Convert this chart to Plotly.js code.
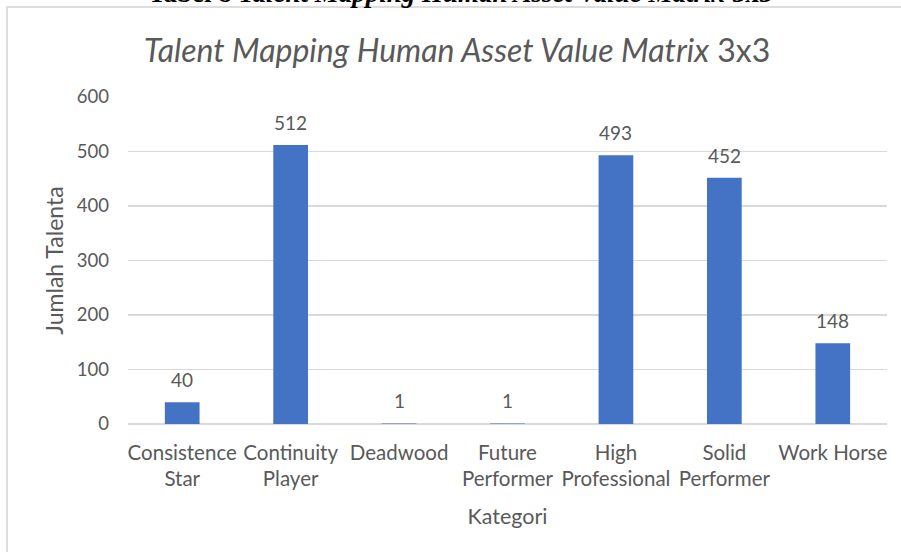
<!DOCTYPE html>
<html>
<head>
<meta charset="utf-8">
<script src="https://cdn.plot.ly/plotly-3.0.1.min.js"></script>
<style>html,body{margin:0;padding:0;background:#fff;}#chart{width:901px;height:552px;}</style>
</head>
<body>
<div id="chart"></div>
<script>
const categories = ["Consistence<br>Star", "Continuity<br>Player", "Deadwood", "Future<br>Performer", "High<br>Professional", "Solid<br>Performer", "Work Horse"];
const values = [40, 512, 1, 1, 493, 452, 148];
const yTicks = [0, 100, 200, 300, 400, 500, 600];

const FONT = "Lato, 'Open Sans', sans-serif";
const GREY = "#595959";
const ML = 128, MR = 14, MT = 97, MB = 128, W = 901, H = 552;
const PW = W - ML - MR, PH = H - MT - MB;
const px = x => (x - ML) / PW;
const py = y => 1 - (y - MT) / PH;

const trace = {
  type: "bar",
  x: categories,
  y: values,
  marker: {color: "#4472C4"},
  hoverinfo: "x+y"
};

const labels = categories.map((c, i) => ({
  x: c, y: values[i], xref: "x", yref: "y",
  text: String(values[i]), showarrow: false,
  yanchor: "bottom", yshift: 9,
  font: {family: FONT, size: 19, color: GREY}
}));

const layout = {
  width: W, height: H,
  margin: {l: ML, r: MR, t: MT, b: MB},
  paper_bgcolor: "#ffffff",
  plot_bgcolor: "#ffffff",
  bargap: 0.68,
  showlegend: false,
  title: {
    text: "<i>Talent Mapping Human Asset Value Matrix</i> 3x3",
    font: {family: FONT, size: 32, color: GREY},
    x: 457 / W, xref: "container", xanchor: "center",
    y: 1 - 51 / H, yref: "container", yanchor: "middle"
  },
  xaxis: {
    type: "category",
    tickfont: {family: FONT, size: 20.5, color: GREY},
    ticks: "", showline: false, showgrid: false,
    ticklabelstandoff: 14,
    title: {text: "Kategori", font: {family: FONT, size: 21.5, color: GREY}, standoff: 19}
  },
  yaxis: {
    range: [0, 600],
    tickvals: yTicks,
    ticktext: yTicks.map(String),
    tickfont: {family: FONT, size: 18.5, color: GREY},
    ticks: "", showline: false,
    gridcolor: "#d9d9d9", gridwidth: 1.3,
    zeroline: true, zerolinecolor: "#d9d9d9", zerolinewidth: 1.3,
    ticklabelstandoff: 18,
    title: {text: "Jumlah Talenta", font: {family: FONT, size: 23, color: GREY}, standoff: 6}
  },
  annotations: labels.concat([
    {
      xref: "paper", yref: "paper", x: px(460), y: py(10),
      xanchor: "center", yanchor: "bottom", showarrow: false,
      text: "<b>Tabel 8 <i>Talent Mapping Human Asset Value Matrix</i> 3x3</b>",
      font: {family: "'Liberation Serif', 'DejaVu Serif', serif", size: 27, color: "#000000"}
    }
  ]),
  shapes: [
    {type: "rect", xref: "paper", yref: "paper",
     x0: px(7), x1: px(W + 20), y0: py(7), y1: py(H + 20),
     line: {color: "#d4d4d4", width: 1.5}, fillcolor: "rgba(0,0,0,0)", layer: "above"}
  ]
};

Plotly.newPlot("chart", [trace], layout, {staticPlot: true, displayModeBar: false});
</script>
</body>
</html>
